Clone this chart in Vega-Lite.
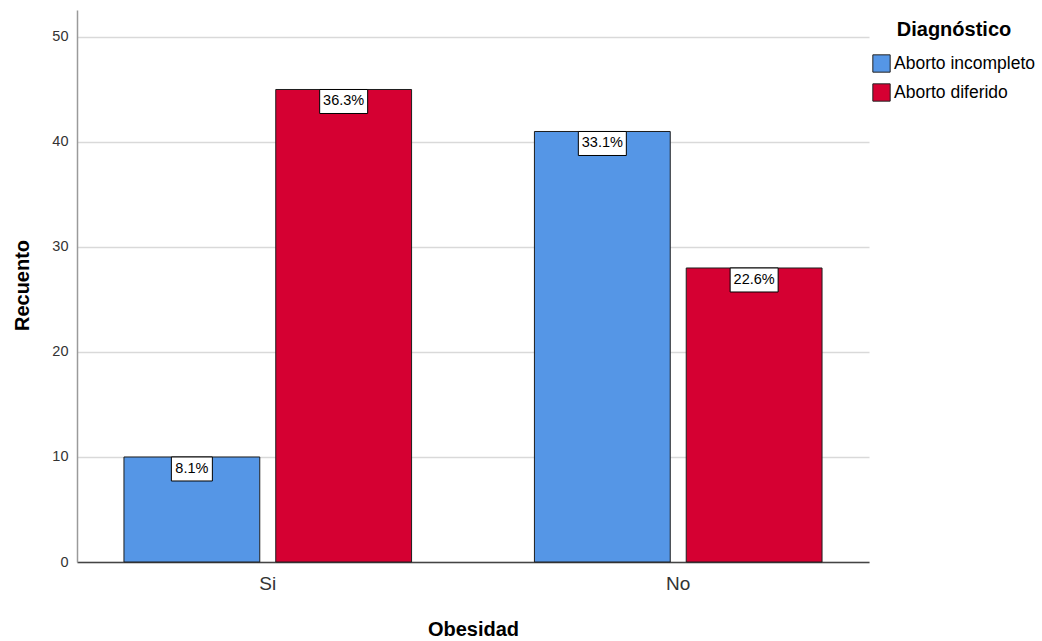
{
  "$schema": "https://vega.github.io/schema/vega-lite/v6.json",
  "width": 792,
  "height": 552,
  "autosize": {"type": "none"},
  "padding": {"left": 77, "top": 10, "right": 173, "bottom": 79},
  "background": "white",
  "config": {
    "font": "Liberation Sans",
    "view": {"stroke": null}
  },
  "data": {
    "values": [
      {"Obesidad": "Si", "Diagnostico": "Aborto incompleto", "Recuento": 10, "Porcentaje": "8.1%"},
      {"Obesidad": "Si", "Diagnostico": "Aborto diferido", "Recuento": 45, "Porcentaje": "36.3%"},
      {"Obesidad": "No", "Diagnostico": "Aborto incompleto", "Recuento": 41, "Porcentaje": "33.1%"},
      {"Obesidad": "No", "Diagnostico": "Aborto diferido", "Recuento": 28, "Porcentaje": "22.6%"}
    ]
  },
  "encoding": {
    "x": {
      "field": "Obesidad",
      "type": "nominal",
      "sort": ["Si", "No"],
      "scale": {"paddingInner": 0.2993, "paddingOuter": 0.1144},
      "axis": {
        "title": "Obesidad",
        "labelAngle": 0,
        "ticks": false,
        "domainColor": "#444444",
        "domainWidth": 1.5,
        "labelFontSize": 19,
        "labelColor": "#333333",
        "labelPadding": 12,
        "titleFontSize": 20,
        "titleFontWeight": "bold",
        "titleColor": "#000000",
        "titleY": 73,
        "titleBaseline": "alphabetic",
        "grid": false
      }
    },
    "xOffset": {
      "field": "Diagnostico",
      "type": "nominal",
      "sort": ["Aborto incompleto", "Aborto diferido"],
      "scale": {"paddingInner": 0.1053, "paddingOuter": 0}
    },
    "y": {
      "field": "Recuento",
      "type": "quantitative",
      "scale": {"domain": [0, 52.57], "nice": false},
      "axis": {
        "title": "Recuento",
        "values": [0, 10, 20, 30, 40, 50],
        "grid": true,
        "gridColor": "#d9d9d9",
        "gridWidth": 1.5,
        "ticks": false,
        "domainColor": "#9a9a9a",
        "domainWidth": 1.5,
        "labelFontSize": 14.5,
        "labelColor": "#333333",
        "labelPadding": 9,
        "titleFontSize": 20,
        "titleFontWeight": "bold",
        "titleColor": "#000000",
        "titleX": -49,
        "titleY": 275,
        "titleAlign": "center",
        "titleBaseline": "alphabetic"
      }
    }
  },
  "layer": [
    {
      "mark": {"type": "bar", "stroke": "#1e1e1e", "strokeWidth": 1},
      "encoding": {
        "color": {
          "field": "Diagnostico",
          "type": "nominal",
          "sort": ["Aborto incompleto", "Aborto diferido"],
          "scale": {"domain": ["Aborto incompleto", "Aborto diferido"], "range": ["#5596E6", "#D50032"]},
          "legend": {
            "title": "Diagnóstico",
            "orient": "none",
            "legendX": 795,
            "legendY": 10,
            "padding": 0,
            "symbolType": "square",
            "symbolSize": 300,
            "symbolStrokeColor": "#222222",
            "symbolStrokeWidth": 1,
            "labelFontSize": 17.5,
            "labelColor": "#000000",
            "labelOffset": 3,
            "titleFontSize": 20,
            "titleFontWeight": "bold",
            "titleColor": "#000000",
            "titleAnchor": "middle",
            "titlePadding": 14,
            "rowPadding": 6
          }
        }
      }
    },
    {
      "mark": {"type": "bar", "fill": "#ffffff", "stroke": "#000000", "strokeWidth": 1, "y2Offset": 24},
      "encoding": {
        "y2": {"field": "Recuento"},
        "size": {"condition": {"test": "datum.Recuento < 20", "value": 41}, "value": 48}
      }
    },
    {
      "mark": {"type": "text", "fontSize": 14.5, "color": "#000000", "baseline": "middle", "yOffset": 12},
      "encoding": {
        "text": {"field": "Porcentaje"}
      }
    }
  ]
}
